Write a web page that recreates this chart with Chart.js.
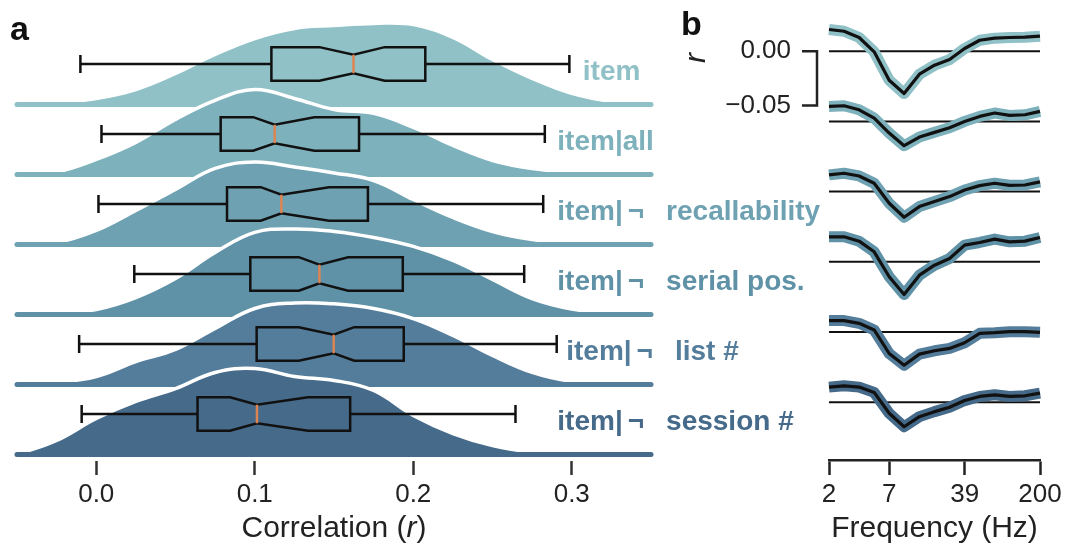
<!DOCTYPE html>
<html lang="en">
<head>
<meta charset="UTF-8">
<title>Item correlations</title>
<script src="https://cdn.jsdelivr.net/npm/chart.js"></script>
<style>
  body { margin: 0; background: #fff; }
  .wrap { position: relative; width: 1066px; height: 548px; overflow: hidden; }
  #ridges { position: absolute; left: 0; top: 0; }
  #spectra { position: absolute; left: 680px; top: 0; }
</style>
</head>
<body>
<div class="wrap">
  <canvas id="ridges" width="830" height="548"></canvas>
  <canvas id="spectra" width="386" height="548"></canvas>
</div>
<script>
// ---- data ----
const conditions = ['item', 'item|all', 'item|¬ recallability', 'item|¬ serial pos.', 'item|¬ list #', 'item|¬ session #'];

// panel a: density of correlation r (kde), sampled on this grid
const corrGrid = [-0.05, -0.025, 0, 0.025, 0.05, 0.075, 0.1, 0.125, 0.15, 0.175, 0.2, 0.225, 0.25, 0.275, 0.3, 0.325, 0.35];
const densItem    = [0, 0.14, 0.43, 1.07, 2.21, 3.57, 4.71, 5.43, 5.64, 5.79, 5.71, 4.79, 3.21, 1.86, 0.79, 0.21, 0];
const densAll     = [0, 0.18, 1.07, 2.29, 3.93, 5.29, 6.07, 5.43, 4.64, 4.36, 3.36, 2.07, 1.00, 0.43, 0.18, 0.05, 0];
const densRecall  = [0, 0.14, 1.00, 2.43, 3.93, 5.43, 5.89, 5.54, 5.11, 4.57, 3.21, 1.93, 0.93, 0.36, 0.11, 0.02, 0];
const densSerial  = [0, 0.11, 0.36, 1.21, 2.57, 4.43, 5.86, 6.11, 5.93, 5.50, 4.86, 3.86, 2.50, 1.14, 0.39, 0.07, 0];
const densList    = [0, 0.14, 0.57, 1.64, 2.50, 4.00, 5.43, 5.82, 5.76, 5.43, 4.71, 3.50, 2.07, 0.86, 0.21, 0.05, 0];
const densSession = [0, 1.00, 2.57, 3.79, 4.71, 5.86, 6.14, 5.57, 5.29, 4.57, 2.79, 1.50, 0.64, 0.18, 0.04, 0, 0];

// notched box plots
const whiskLo = [-0.0100, 0.0033, 0.0014, 0.0240, -0.0108, -0.0092];
const q1      = [0.1105, 0.0785, 0.0825, 0.0972, 0.1012, 0.0639];
const notchLo = [0.1408, 0.0990, 0.1038, 0.1278, 0.1278, 0.0844];
const median  = [0.1623, 0.1126, 0.1168, 0.1408, 0.1498, 0.1014];
const notchHi = [0.1820, 0.1376, 0.1469, 0.1589, 0.1628, 0.1336];
const q3      = [0.2076, 0.1658, 0.1714, 0.1934, 0.1940, 0.1602];
const whiskHi = [0.2985, 0.2830, 0.2820, 0.2700, 0.2905, 0.2645];
const corrTicks = [0, 0.1, 0.2, 0.3];

// panel b: r by frequency
const freqs = [2, 2.78, 3.86, 5.36, 7.44, 10.3, 14.4, 20, 27.8, 38.6, 53.6, 74.4, 103, 144, 200];
const freqTicks = [2, 7.44, 38.6, 200];
const rItem    = [0.0200, 0.0184, 0.0126, -0.0006, -0.0267, -0.0390, -0.0212, -0.0129, -0.0077, 0.0025, 0.0101, 0.0120, 0.0126, 0.0129, 0.0138];
const rAll     = [0.0138, 0.0144, 0.0107, 0.0030, -0.0107, -0.0224, -0.0144, -0.0101, -0.0058, 0.0000, 0.0046, 0.0077, 0.0055, 0.0061, 0.0092];
const rRecall  = [0.0154, 0.0169, 0.0144, 0.0077, -0.0107, -0.0236, -0.0138, -0.0092, -0.0046, 0.0015, 0.0055, 0.0077, 0.0058, 0.0061, 0.0089];
const rSerial  = [0.0230, 0.0230, 0.0190, 0.0092, -0.0138, -0.0301, -0.0123, -0.0031, 0.0031, 0.0154, 0.0178, 0.0209, 0.0184, 0.0190, 0.0224];
const rList    = [0.0105, 0.0105, 0.0080, 0.0019, -0.0198, -0.0306, -0.0204, -0.0173, -0.0151, -0.0099, -0.0012, -0.0006, 0.0003, 0.0003, -0.0003];
const rSession = [0.0139, 0.0151, 0.0139, 0.0090, -0.0102, -0.0226, -0.0133, -0.0087, -0.0046, 0.0015, 0.0053, 0.0068, 0.0053, 0.0059, 0.0083];
const rTicks = [0, -0.05];

// ---- styling ----
const colors = ['#8fc1c7', '#7db1bc', '#6ea1b2', '#5f92a7', '#547d9c', '#466a8a'];
const FONT = "'Liberation Sans', Arial, sans-serif";
const TICK_SIZE = 26, TITLE_SIZE = 30;
Chart.defaults.font.family = FONT;
Chart.defaults.color = '#222';

const densities = [densItem, densAll, densRecall, densSerial, densList, densSession];
const spectra = [rItem, rAll, rRecall, rSerial, rList, rSession];
const RIDGE_GAP = 5;                               // density units between ridge baselines
const ridgeOffset = k => (conditions.length - 1 - k) * RIDGE_GAP;
const labelAt = [0.3070, 0.2909, 0.2909, 0.2909, 0.2965, 0.2909];

// ---- panel a ----
const ridgeSets = [];
conditions.forEach((name, k) => {
  const off = ridgeOffset(k);
  ridgeSets.push({
    label: name,
    data: corrGrid.map((x, i) => ({ x, y: off + densities[k][i] })),
    backgroundColor: colors[k],
    borderColor: '#ffffff',
    borderWidth: 3.5,
    fill: { value: off },
    tension: 0.4,
    order: 2 * (conditions.length - k) + 1
  });
  ridgeSets.push({
    label: name + ' base',
    data: [{ x: -0.05, y: off }, { x: 0.35, y: off }],
    borderColor: colors[k],
    borderWidth: 5,
    borderCapStyle: 'round',
    fill: false,
    clip: false,
    order: 2 * (conditions.length - k)
  });
});

function drawCondLabel(ctx, text, x, y) {
  const cut = text.indexOf('|¬ ');
  if (cut < 0) { ctx.fillText(text, x, y); return; }
  const head = text.slice(0, cut + 1);
  ctx.fillText(head, x, y);
  let cx = x + ctx.measureText(head).width + 5;
  ctx.fillText('¬', cx, y);
  cx += ctx.measureText('¬').width + 22;
  ctx.fillText(text.slice(cut + 3), cx, y);
}

const boxPlugin = {
  id: 'boxes',
  afterDatasetsDraw(chart) {
    const { ctx, scales: { x, y } } = chart;
    const px = v => x.getPixelForValue(v);
    ctx.save();
    conditions.forEach((name, k) => {
      const base = y.getPixelForValue(ridgeOffset(k));
      const yc = base - 40.5, hh = 16.8, nh = hh * 0.55, cap = 9;
      ctx.strokeStyle = '#111';
      ctx.lineWidth = 2.5;
      ctx.beginPath();
      ctx.moveTo(px(whiskLo[k]), yc); ctx.lineTo(px(q1[k]), yc);
      ctx.moveTo(px(q3[k]), yc); ctx.lineTo(px(whiskHi[k]), yc);
      ctx.moveTo(px(whiskLo[k]), yc - cap); ctx.lineTo(px(whiskLo[k]), yc + cap);
      ctx.moveTo(px(whiskHi[k]), yc - cap); ctx.lineTo(px(whiskHi[k]), yc + cap);
      ctx.stroke();

      ctx.beginPath();
      ctx.moveTo(px(q1[k]), yc - hh);
      ctx.lineTo(px(notchLo[k]), yc - hh);
      ctx.lineTo(px(median[k]), yc - nh);
      ctx.lineTo(px(notchHi[k]), yc - hh);
      ctx.lineTo(px(q3[k]), yc - hh);
      ctx.lineTo(px(q3[k]), yc + hh);
      ctx.lineTo(px(notchHi[k]), yc + hh);
      ctx.lineTo(px(median[k]), yc + nh);
      ctx.lineTo(px(notchLo[k]), yc + hh);
      ctx.lineTo(px(q1[k]), yc + hh);
      ctx.closePath();
      ctx.stroke();

      ctx.strokeStyle = '#dd8452';
      ctx.lineWidth = 2.5;
      ctx.beginPath();
      ctx.moveTo(px(median[k]), yc - nh); ctx.lineTo(px(median[k]), yc + nh);
      ctx.stroke();

      ctx.fillStyle = colors[k];
      ctx.font = 'bold 28px ' + FONT;
      ctx.textBaseline = 'alphabetic';
      ctx.textAlign = 'left';
      drawCondLabel(ctx, name, px(labelAt[k]), base - 24.5);
    });

    // panel letter + axis title with italic r
    ctx.fillStyle = '#111';
    ctx.font = 'bold 34px ' + FONT;
    ctx.fillText('a', 10, 40);
    const ca = chart.chartArea;
    const parts = [['Correlation (', ''], ['r', 'italic '], [')', '']];
    let total = 0;
    parts.forEach(p => { ctx.font = p[1] + TITLE_SIZE + 'px ' + FONT; total += ctx.measureText(p[0]).width; });
    let tx = (ca.left + ca.right) / 2 - total / 2;
    ctx.fillStyle = '#222';
    ctx.textBaseline = 'middle';
    parts.forEach(p => {
      ctx.font = p[1] + TITLE_SIZE + 'px ' + FONT;
      ctx.fillText(p[0], tx, 529);
      tx += ctx.measureText(p[0]).width;
    });
    ctx.restore();
  }
};

new Chart(document.getElementById('ridges'), {
  type: 'line',
  data: { datasets: ridgeSets },
  options: {
    responsive: false,
    animation: false,
    layout: { padding: { left: 17, right: 179, top: 0, bottom: 0 } },
    plugins: { legend: { display: false }, tooltip: { enabled: false } },
    elements: { point: { radius: 0 } },
    scales: {
      x: {
        type: 'linear', min: -0.05, max: 0.35,
        afterBuildTicks: s => { s.ticks = corrTicks.map(v => ({ value: v })); },
        afterFit: s => { s.height = 87; },
        border: { display: false },
        grid: { drawOnChartArea: false, tickLength: 14, tickWidth: 2.5, tickColor: '#333' },
        ticks: { font: { size: TICK_SIZE }, color: '#222', padding: 4, maxRotation: 0, callback: v => v.toFixed(1) }
      },
      y: { display: false, min: -0.464, max: 32.46 }
    }
  },
  plugins: [boxPlugin]
});

// ---- panel b ----
const zeroTop = 51.2, zeroStep = 70.2, rPerPx = 0.05 / 54.3, areaBottom = 460;
const spectraSets = [];
const yAxes = {};
conditions.forEach((name, k) => {
  const id = 'y' + k;
  const z = zeroTop + zeroStep * k;
  yAxes[id] = { display: false, min: -(areaBottom - z) * rPerPx, max: z * rPerPx };
  spectraSets.push({
    label: name + ' zero', yAxisID: id,
    data: [{ x: freqs[0], y: 0 }, { x: freqs[freqs.length - 1], y: 0 }],
    borderColor: '#111', borderWidth: 2, order: 3
  });
  spectraSets.push({
    label: name + ' band', yAxisID: id,
    data: freqs.map((f, i) => ({ x: f, y: spectra[k][i] })),
    borderColor: colors[k], borderWidth: 11, borderJoinStyle: 'round', clip: false, order: 2
  });
  spectraSets.push({
    label: name, yAxisID: id,
    data: freqs.map((f, i) => ({ x: f, y: spectra[k][i] })),
    borderColor: '#111', borderWidth: 3.2, borderJoinStyle: 'round', clip: false, order: 1
  });
});

const rAxisPlugin = {
  id: 'rAxis',
  afterDraw(chart) {
    const { ctx, chartArea } = chart;
    const y0 = chart.scales.y0;
    const top = y0.getPixelForValue(rTicks[0]), bot = y0.getPixelForValue(rTicks[1]);
    const sx = chartArea.left - 12;
    ctx.save();
    ctx.strokeStyle = '#222';
    ctx.lineWidth = 2.5;
    ctx.beginPath();
    ctx.moveTo(sx - 15, top); ctx.lineTo(sx, top); ctx.lineTo(sx, bot); ctx.lineTo(sx - 15, bot);
    ctx.stroke();
    ctx.fillStyle = '#222';
    ctx.font = TICK_SIZE + 'px ' + FONT;
    ctx.textAlign = 'right';
    ctx.textBaseline = 'middle';
    rTicks.forEach(v => ctx.fillText(v.toFixed(2).replace('-', '\u2212'), sx - 26, y0.getPixelForValue(v)));
    ctx.save();
    ctx.translate(25, 58);
    ctx.rotate(-Math.PI / 2);
    ctx.font = 'italic ' + TITLE_SIZE + 'px ' + FONT;
    ctx.textAlign = 'center';
    ctx.textBaseline = 'alphabetic';
    ctx.fillText('r', 0, 0);
    ctx.restore();
    ctx.fillStyle = '#111';
    ctx.font = 'bold 34px ' + FONT;
    ctx.textAlign = 'left';
    ctx.textBaseline = 'alphabetic';
    ctx.fillText('b', 1, 35);
    ctx.restore();
  }
};

new Chart(document.getElementById('spectra'), {
  type: 'line',
  data: { datasets: spectraSets },
  options: {
    responsive: false,
    animation: false,
    layout: { padding: { left: 149, right: 26, top: 0, bottom: 0 } },
    plugins: { legend: { display: false }, tooltip: { enabled: false } },
    elements: { point: { radius: 0 } },
    scales: Object.assign({
      x: {
        type: 'logarithmic', min: 2, max: 200,
        afterBuildTicks: s => { s.ticks = freqTicks.map(v => ({ value: v })); },
        afterFit: s => { s.height = 88; },
        border: { display: true, color: '#222', width: 2.5 },
        grid: { drawOnChartArea: false, tickLength: 15, tickWidth: 2.5, tickColor: '#222' },
        ticks: { font: { size: TICK_SIZE }, color: '#222', padding: 4, maxRotation: 0, autoSkip: false, callback: v => String(Math.round(v)) },
        title: { display: true, text: 'Frequency (Hz)', font: { size: TITLE_SIZE }, color: '#222', padding: { top: 0, bottom: 1 } }
      }
    }, yAxes)
  },
  plugins: [rAxisPlugin]
});
</script>
</body>
</html>
